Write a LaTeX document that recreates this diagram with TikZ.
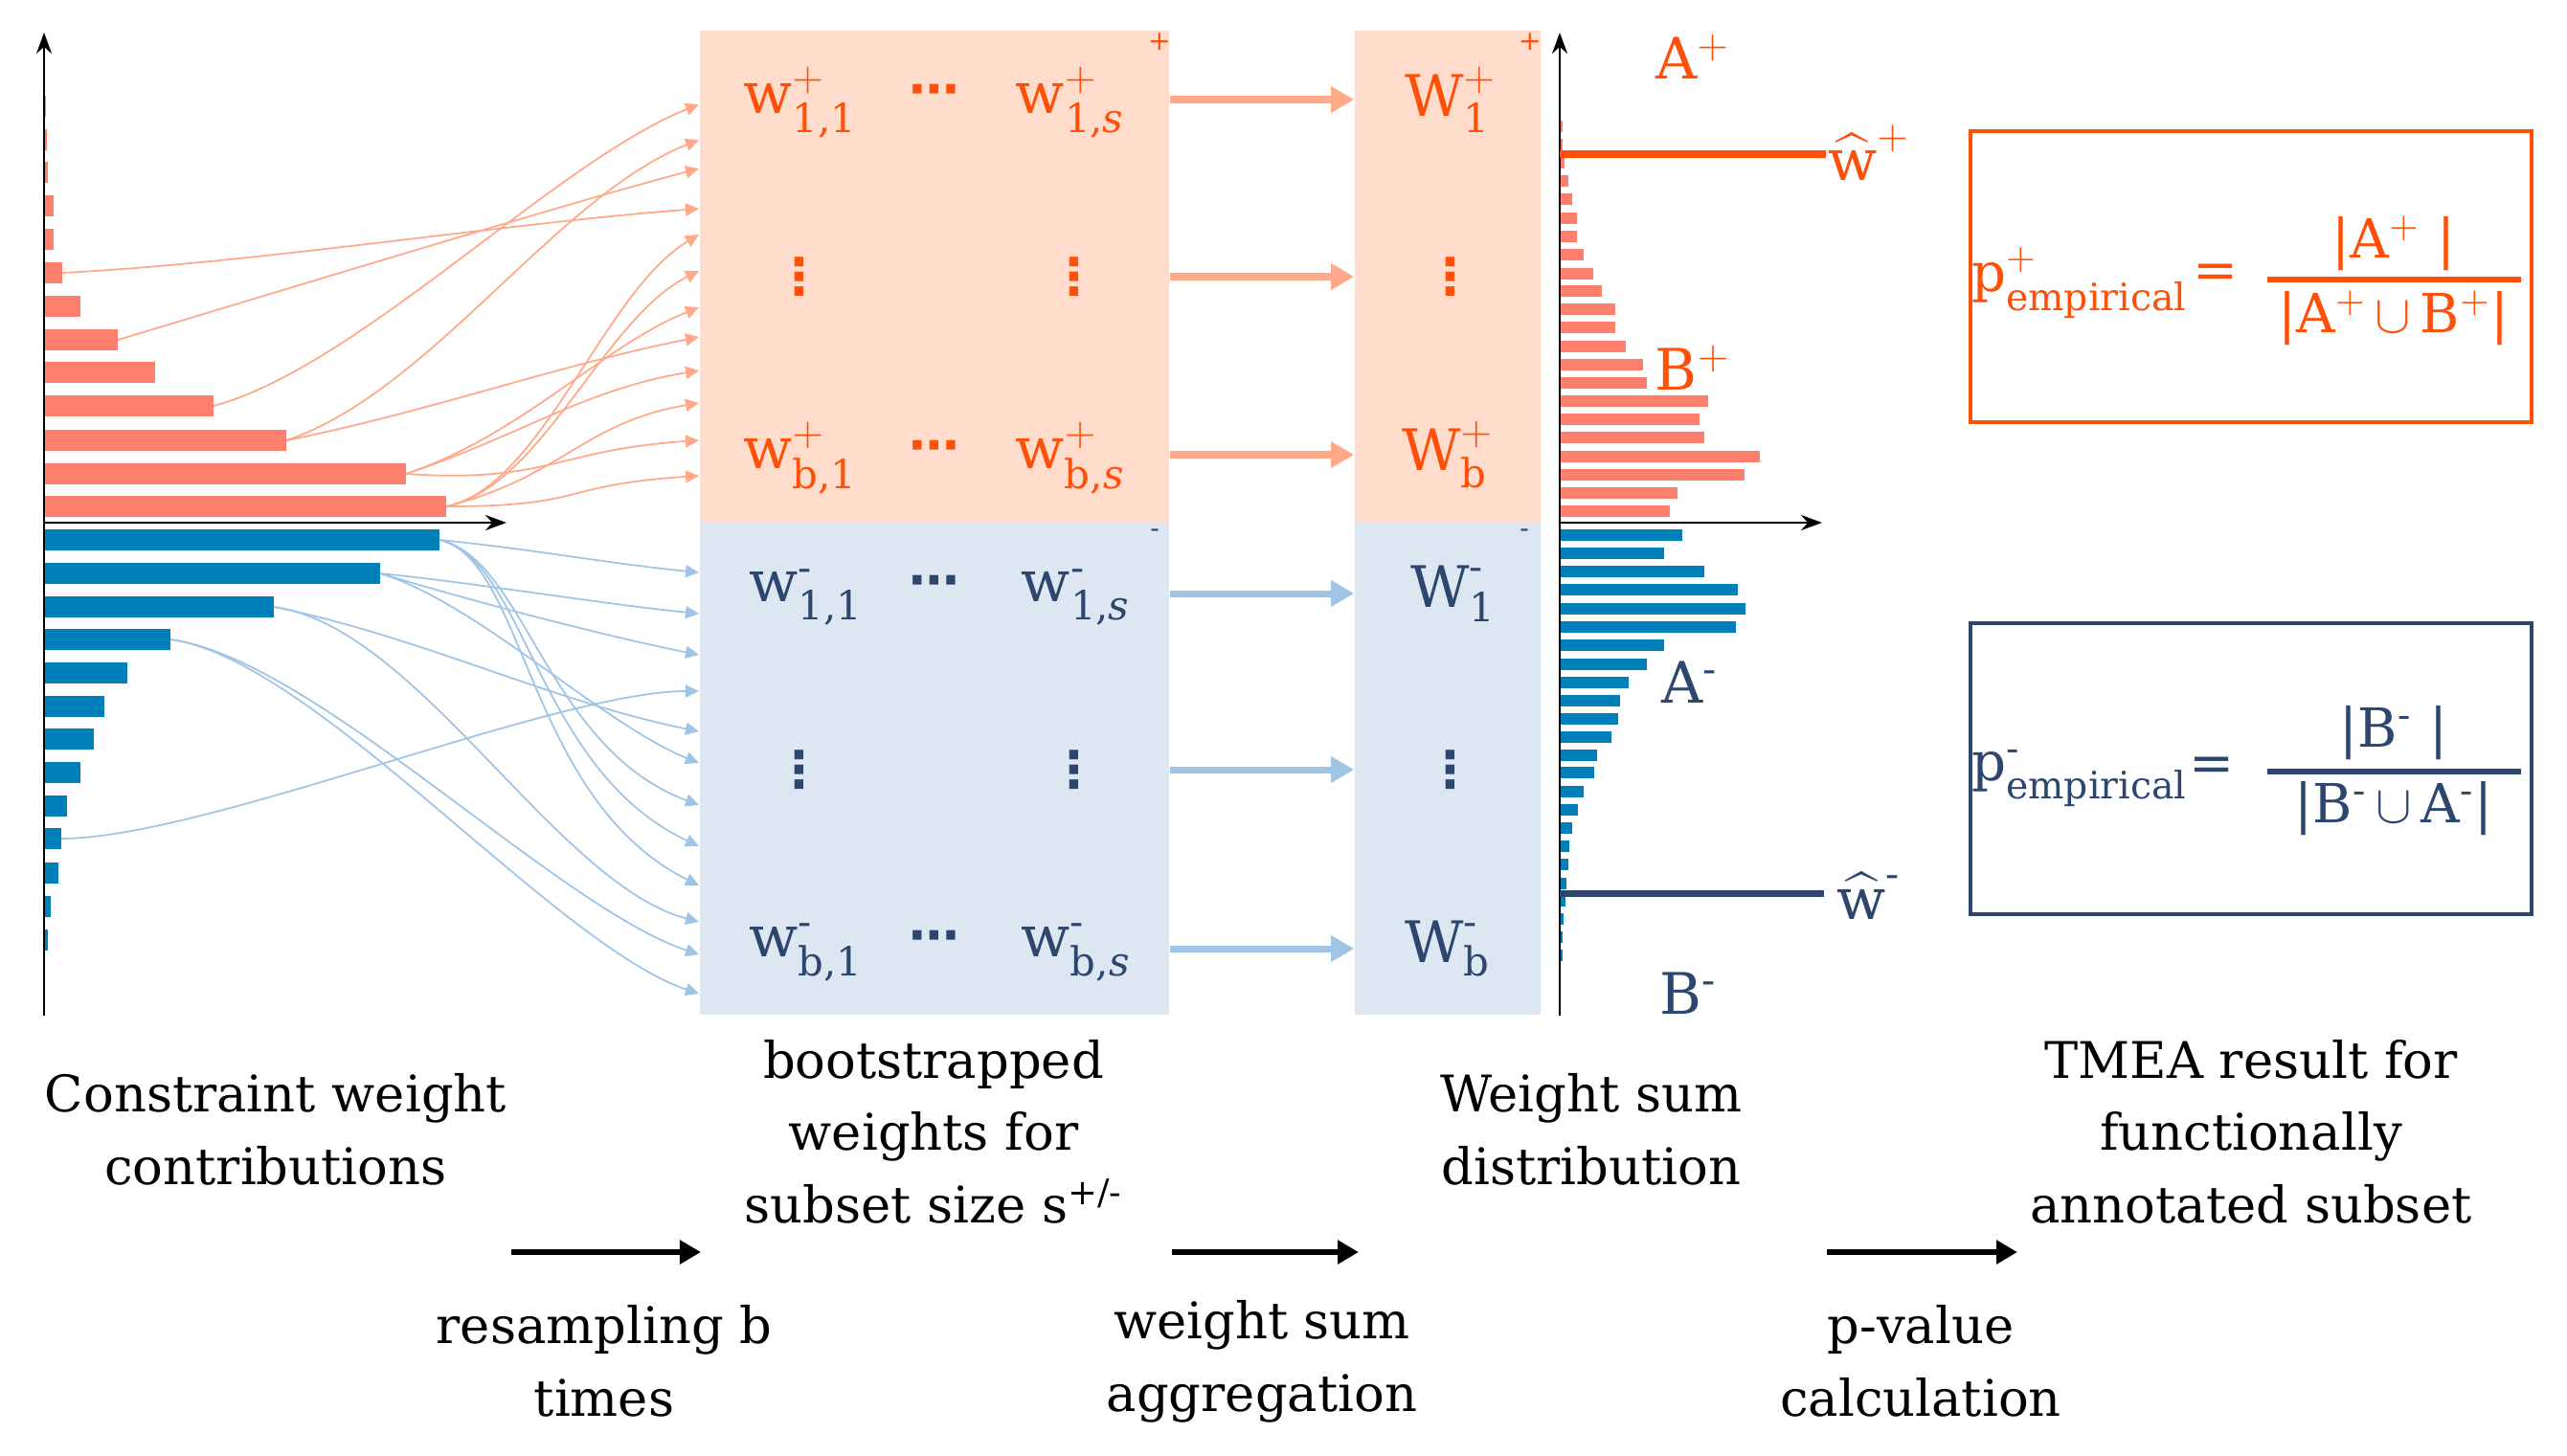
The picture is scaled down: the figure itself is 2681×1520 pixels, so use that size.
\RequirePackage{fix-cm}
\documentclass[tikz,border=0pt]{standalone}
\usepackage{amsmath}
\usepackage{fontspec}
\setmainfont{DejaVu Serif}
\newfontfamily\dotfont{DejaVu Sans}
\usetikzlibrary{arrows.meta, positioning, calc}

\definecolor{barred}{RGB}{255,127,110}
\definecolor{barblue}{RGB}{0,128,184}
\definecolor{boxred}{RGB}{255,220,204}
\definecolor{boxblue}{RGB}{221,231,242}
\definecolor{linkred}{RGB}{255,168,138}
\definecolor{linkblue}{RGB}{160,196,230}
\definecolor{txtred}{RGB}{255,80,10}
\definecolor{txtblue}{RGB}{45,70,110}

\newcommand{\wmat}[3]{$\text{#1}^{#2}_{\text{#3}}$}
\newcommand{\rowdots}{{\dotfont\bfseries ⋯}}
\newcommand{\coldots}{{\dotfont\bfseries ⋮}}

\begin{document}
\begin{tikzpicture}[x=0.01cm,y=-0.01cm,
  redlink/.style={draw=linkred, line width=0.5pt, -{Triangle[length=0.14cm,width=0.13cm]}},
  bluelink/.style={draw=linkblue, line width=0.5pt, -{Triangle[length=0.14cm,width=0.13cm]}},
  fatred/.style={draw=linkred, line width=2pt, -{Triangle[length=0.24cm,width=0.26cm]}},
  fatblue/.style={draw=linkblue, line width=2pt, -{Triangle[length=0.24cm,width=0.26cm]}},
  flow/.style={draw=black, line width=1.8pt, -{Triangle[length=0.22cm,width=0.24cm]}},
  axis/.style={draw=black, line width=0.7pt, -{Stealth[length=0.22cm,width=0.16cm]}},
  matbox/.style={minimum width=4.9cm, minimum height=5.14cm, inner sep=0pt},
  sumbox/.style={minimum width=1.94cm, minimum height=5.14cm, inner sep=0pt},
  pent/.style={text=txtred, font=\fontsize{17}{20}\selectfont},
  ment/.style={text=txtblue, font=\fontsize{17}{20}\selectfont},
  pdot/.style={text=txtred, inner sep=0pt, font=\fontsize{15}{18}\selectfont},
  mdot/.style={text=txtblue, inner sep=0pt, font=\fontsize{15}{18}\selectfont},
  pform/.style={text=txtred, font=\fontsize{16}{19}\selectfont},
  mform/.style={text=txtblue, font=\fontsize{16}{19}\selectfont},
  stagetext/.style={align=center, font=\fontsize{15}{21.5}\selectfont}]

\useasboundingbox (0,0) rectangle (2681,1520);

% bootstrap matrices and weight sums
\node[matbox, fill=boxred] (redmat) at (976,289) {};
\node[matbox, fill=boxblue] (bluemat) at (976,803) {};
\node[sumbox, fill=boxred] (redsum) at (1512,289) {};
\node[sumbox, fill=boxblue] (bluesum) at (1512,803) {};

\node[pent] (w11p) at (836,107) {\wmat{w}{+}{1,1}};
\node[pdot] (c1p) at (976,100) {\rowdots};
\node[pent] (w1sp) at (1118,107) {\wmat{w}{+}{1,\textit{s}}};
\node[pdot] (v1p) at (835,289) {\coldots};
\node[pdot] (v2p) at (1122,289) {\coldots};
\node[pent] (wb1p) at (836,479) {\wmat{w}{+}{b,1}};
\node[pdot] (c2p) at (976,472) {\rowdots};
\node[pent] (wbsp) at (1118,479) {\wmat{w}{+}{b,\textit{s}}};
\node[pent] (W1p) at (1515,104) {\wmat{W}{+}{1}};
\node[pdot] (v3p) at (1515,289) {\coldots};
\node[pent] (Wbp) at (1512,475) {\wmat{W}{+}{b}};

\node[ment] (w11m) at (842,624) {\wmat{w}{\text{-}}{1,1}};
\node[mdot] (c1m) at (976,613) {\rowdots};
\node[ment] (w1sm) at (1124,624) {\wmat{w}{\text{-}}{1,\textit{s}}};
\node[mdot] (v1m) at (835,804) {\coldots};
\node[mdot] (v2m) at (1122,804) {\coldots};
\node[ment] (wb1m) at (842,995) {\wmat{w}{\text{-}}{b,1}};
\node[mdot] (c2m) at (976,984) {\rowdots};
\node[ment] (wbsm) at (1124,995) {\wmat{w}{\text{-}}{b,\textit{s}}};
\node[ment] (W1m) at (1518,620) {\wmat{W}{\text{-}}{1}};
\node[mdot] (v3m) at (1515,804) {\coldots};
\node[ment] (Wbm) at (1512,991) {\wmat{W}{\text{-}}{b}};

\node[text=txtred, font=\fontsize{8}{8}\selectfont] (pm1) at (1211,44) {+};
\node[text=txtred, font=\fontsize{8}{8}\selectfont] (pm2) at (1598,44) {+};
\node[text=txtblue, font=\fontsize{8}{8}\selectfont] (mm1) at (1206,557) {-};
\node[text=txtblue, font=\fontsize{8}{8}\selectfont] (mm2) at (1592,557) {-};

\foreach \n in {W1p,v3p,Wbp}
  \draw[fatred] (redmat.east |- \n) -- (redsum.west |- \n);
\foreach \n in {W1m,v3m,Wbm}
  \draw[fatblue] (bluemat.east |- \n) -- (bluesum.west |- \n);

% constraint weight histogram
\foreach \y/\x [count=\i] in {529/466,495/424,460/299,424/223,389/162,355/123,320/84,
    285/65,250/56,215/56,180/50,146/49,111/48} {
  \fill[barred] (46,\y-11) rectangle (\x,\y+11);
  \coordinate (rb\i) at (\x,\y);
}
\foreach \y/\x [count=\i] in {564/459,599/397,634/286,668/178,703/133,738/109,772/98,
    807/84,842/70,876/64,912/61,947/53,982/50} {
  \fill[barblue] (46,\y-11) rectangle (\x,\y+11);
  \coordinate (bb\i) at (\x,\y);
}
\draw[axis] (46,1061) -- (46,34);
\draw[axis] (46,546) -- (529,546);

% resampling links
\foreach \y [count=\i] in {109,146,176,218,245,283,321,352,387,421,460,497}
  \coordinate (rt\i) at (730,\y);
\foreach \y [count=\i] in {598,641,684,722,764,797,841,884,925,963,997,1038}
  \coordinate (bt\i) at (730,\y);

\draw[redlink] (rb8) .. controls +(200,-10) and +(-200,15) .. (rt4);
\draw[redlink] (rb6) .. controls +(200,-60) and +(-150,40) .. (rt3);
\draw[redlink] (rb4) .. controls +(150,-40) and +(-150,60) .. (rt1);
\draw[redlink] (rb3) .. controls +(150,-50) and +(-150,60) .. (rt2);
\draw[redlink] (rb3) .. controls +(150,-30) and +(-150,30) .. (rt8);
\draw[redlink] (rb1) .. controls +(100,-20) and +(-100,60) .. (rt5);
\draw[redlink] (rb1) .. controls +(100,-20) and +(-100,50) .. (rt6);
\draw[redlink] (rb2) .. controls +(120,-40) and +(-100,40) .. (rt7);
\draw[redlink] (rb2) .. controls +(120,-40) and +(-120,20) .. (rt9);
\draw[redlink] (rb1) .. controls +(120,-30) and +(-120,20) .. (rt10);
\draw[redlink] (rb2) .. controls +(150,10) and +(-150,10) .. (rt11);
\draw[redlink] (rb1) .. controls +(150,0) and +(-150,10) .. (rt12);

\draw[bluelink] (bb1) .. controls +(100,10) and +(-100,-10) .. (bt1);
\draw[bluelink] (bb1) .. controls +(90,20) and +(-160,-60) .. (bt7);
\draw[bluelink] (bb1) .. controls +(90,20) and +(-170,-80) .. (bt8);
\draw[bluelink] (bb1) .. controls +(90,20) and +(-180,-90) .. (bt9);
\draw[bluelink] (bb2) .. controls +(100,10) and +(-100,-10) .. (bt2);
\draw[bluelink] (bb2) .. controls +(100,30) and +(-100,-20) .. (bt3);
\draw[bluelink] (bb2) .. controls +(100,30) and +(-100,-40) .. (bt6);
\draw[bluelink] (bb3) .. controls +(150,30) and +(-150,-30) .. (bt5);
\draw[bluelink] (bb3) .. controls +(150,20) and +(-150,-40) .. (bt10);
\draw[bluelink] (bb4) .. controls +(150,20) and +(-150,-50) .. (bt11);
\draw[bluelink] (bb4) .. controls +(150,20) and +(-150,-50) .. (bt12);
\draw[bluelink] (bb10) .. controls +(150,0) and +(-150,0) .. (bt4);

% weight sum distribution
\foreach \y/\x in {534/1744,515/1752,496/1822,477/1838,457/1780,438/1775,419/1784,
    400/1720,381/1716,362/1698,342/1687,323/1687,304/1673,286/1664,266/1654,247/1647,
    228/1647,208/1642,189/1638,170/1634,151/1632,132/1632}
  \fill[barred] (1629,\y-6) rectangle (\x,\y+6);
\foreach \y/\x in {559/1757,578/1738,597/1780,616/1815,636/1823,655/1813,674/1738,
    694/1720,713/1701,732/1692,751/1690,770/1683,789/1668,807/1665,827/1654,846/1648,
    865/1642,884/1639,903/1638,923/1636,941/1635,960/1633,979/1632,998/1632}
  \fill[barblue] (1629,\y-6) rectangle (\x,\y+6);
\draw[axis] (1629,1061) -- (1629,34);
\draw[axis] (1629,546) -- (1903,546);

\node[pent] (whp) at (1952,160) {$\widehat{\text{w}}^{+}$};
\draw[txtred, line width=2pt] (1629,161) -- (1907,161);
\node[ment] (whm) at (1952,936) {$\widehat{\text{w}}^{\text{-}}$};
\draw[txtblue, line width=2pt] (1629,933) -- (1905,933);

\node[pent] (Ap) at (1768,59) {A$^{+}$};
\node[pent] (Bp) at (1768,384) {B$^{+}$};
\node[ment] (Am) at (1765,713) {A$^{\text{-}}$};
\node[ment] (Bm) at (1763,1038) {B$^{\text{-}}$};

% empirical p-values
\node[draw=txtred, line width=1.2pt, minimum width=5.85cm, minimum height=3.04cm] (pbox) at (2351,289) {};
\node[draw=txtblue, line width=1.2pt, minimum width=5.85cm, minimum height=3.04cm] (mbox) at (2351,803) {};

\node[pform] (pep) at (2172,296) {p$^{+}_{\text{empirical}}$};
\node[pform] (eqp) at (2314,289) {=};
\node[pform] (nump) at (2500,254) {|A$^{+}$ |};
\node[pform] (denp) at (2500,332) {|A$^{+}$\,$\cup$\,B$^{+}$|};
\draw[txtred, line width=1.8pt] (2368,292) -- (2633,292);

\node[mform] (pem) at (2172,813) {p$^{\text{-}}_{\text{empirical}}$};
\node[mform] (eqm) at (2310,804) {=};
\node[mform] (numm) at (2500,766) {|B$^{\text{-}}$ |};
\node[mform] (denm) at (2500,845) {|B$^{\text{-}}$\,$\cup$\,A$^{\text{-}}$|};
\draw[txtblue, line width=1.8pt] (2368,806) -- (2633,806);

% pipeline captions
\node[stagetext] (capcw) at (288,1180) {Constraint weight\\contributions};
\node[stagetext] (capbw) at (975,1182) {bootstrapped\\weights for\\subset size s\textsuperscript{+/-}};
\node[stagetext] (capws) at (1662,1180) {Weight sum\\distribution};
\node[stagetext] (captm) at (2351,1182) {TMEA result for\\functionally\\annotated subset};
\node[stagetext] (capre) at (631,1422) {resampling b\\times};
\node[stagetext] (capag) at (1318,1422) {weight sum\\aggregation};
\node[stagetext] (cappv) at (2006,1422) {p-value\\calculation};

\coordinate (f1a) at (534,1308);
\coordinate (f1b) at (732,1308);
\coordinate (f2a) at (1224,1308);
\coordinate (f2b) at (1419,1308);
\coordinate (f3a) at (1908,1308);
\coordinate (f3b) at (2107,1308);
\draw[flow] (f1a) -- (f1b);
\draw[flow] (f2a) -- (f2b);
\draw[flow] (f3a) -- (f3b);

\end{tikzpicture}
\end{document}
